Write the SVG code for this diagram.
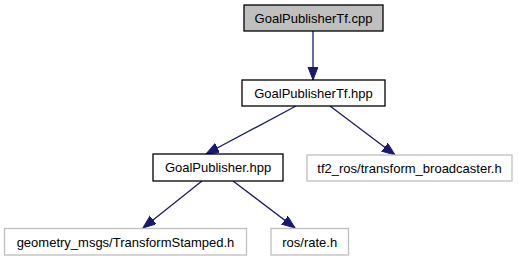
<svg xmlns="http://www.w3.org/2000/svg" width="519" height="261" viewBox="0 0 519 261">
  <style>
    .box { fill: #ffffff; stroke: #000000; stroke-width: 1.3; }
    .root { fill: #bfbfbf; }
    .ext { stroke: #bfbfbf; }
    .lbl { font-family: "Liberation Sans", Arial, sans-serif; font-size: 13px; fill: #000000; text-anchor: middle; }
    .edge { fill: none; stroke: #191970; stroke-width: 1.3; }
  </style>
  <defs>
    <marker id="arrow" markerUnits="userSpaceOnUse" markerWidth="14" markerHeight="11" refX="13" refY="5" orient="auto">
      <path d="M0,0 L13,5 L0,10 z" fill="#191970" stroke="#191970" stroke-width="1"/>
    </marker>
  </defs>
  <rect width="519" height="261" fill="#ffffff"/>

  <g id="edges">
    <line class="edge" x1="313" y1="31" x2="313" y2="80" marker-end="url(#arrow)"/>
    <line class="edge" x1="296" y1="106" x2="206" y2="154" marker-end="url(#arrow)"/>
    <line class="edge" x1="330" y1="106" x2="395" y2="155" marker-end="url(#arrow)"/>
    <line class="edge" x1="202" y1="181" x2="143" y2="228" marker-end="url(#arrow)"/>
    <line class="edge" x1="233" y1="181" x2="295" y2="228" marker-end="url(#arrow)"/>
  </g>

  <g id="node1">
    <rect class="box root" x="244" y="5" width="139" height="26"/>
    <text class="lbl" x="313.5" y="22.5">GoalPublisherTf.cpp</text>
  </g>
  <g id="node2">
    <rect class="box" x="242" y="80" width="143" height="26"/>
    <text class="lbl" x="313.5" y="97.5">GoalPublisherTf.hpp</text>
  </g>
  <g id="node3">
    <rect class="box" x="153" y="154" width="130" height="27"/>
    <text class="lbl" x="218" y="172">GoalPublisher.hpp</text>
  </g>
  <g id="node4">
    <rect class="box ext" x="307" y="155" width="205" height="26"/>
    <text class="lbl" x="409.5" y="172.5">tf2_ros/transform_broadcaster.h</text>
  </g>
  <g id="node5">
    <rect class="box ext" x="4.5" y="228.5" width="242" height="26.5"/>
    <text class="lbl" x="125.5" y="246.5">geometry_msgs/TransformStamped.h</text>
  </g>
  <g id="node6">
    <rect class="box ext" x="271" y="228.5" width="77.5" height="26.5"/>
    <text class="lbl" x="309.75" y="246.5">ros/rate.h</text>
  </g>
</svg>
